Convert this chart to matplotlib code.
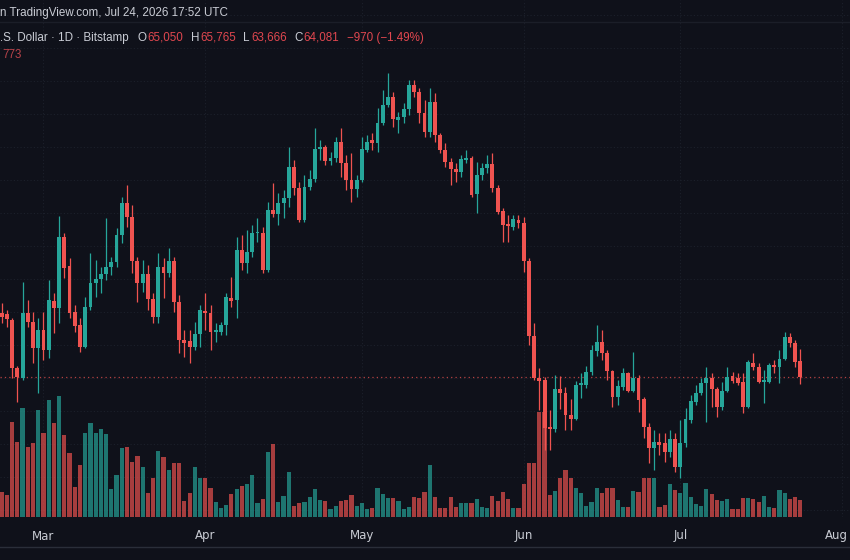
import numpy as np
import pandas as pd
import matplotlib
matplotlib.use("Agg")
import matplotlib.pyplot as plt
import matplotlib.dates as mdates

# ---------------- data ----------------
start_date = "2026-02-21"
opens = [67940, 67880, 67520, 64610, 64000, 67940, 67390, 65820, 66910, 65700,
         68670, 68240, 72550, 70790, 68000, 67210, 65880, 68300, 69760, 70000,
         70300, 70730, 71030, 72670, 74610, 73760, 71090, 69760, 70300, 68790,
         67700, 70730, 70360, 71090, 68610, 66300, 66240, 65880, 66670, 68060,
         67940, 66790, 66790, 67210, 68850, 68730, 71760, 70970, 71640, 72790,
         72790, 70550, 74180, 73940, 74610, 74910, 76790, 75510, 73580, 75570,
         76060, 77880, 78000, 77150, 77330, 78300, 77030, 76000, 75450, 76000,
         77820, 78420, 78240, 79450, 80540, 81030, 79630, 79820, 80300, 81760,
         81330, 80060, 78910, 80730, 78730, 77820, 77090, 76670, 76480, 77210,
         77330, 75150, 76300, 76730, 76970, 75510, 74120, 73330, 73150, 73580,
         73390, 71090, 66550, 64000, 63880, 61030, 60910, 63330, 63090, 61760,
         61520, 63580, 63580, 64360, 65640, 66180, 65520, 64420, 62850, 63450,
         64300, 63210, 64000, 62730, 61030, 59760, 60120, 60060, 59520, 60300,
         58610, 60060, 61450, 62550, 63090, 63700, 64000, 63330, 62240, 63210,
         64120, 64000, 63760, 62240, 64910, 64670, 63760, 63760, 64790, 64670,
         65150, 66490, 66120, 65050]
highs = [68550, 68120, 67640, 64730, 69820, 68730, 68000, 67640, 68000, 69940,
         69150, 73820, 72790, 71270, 68420, 67640, 68910, 71580, 71150, 70730,
         73700, 71330, 73090, 74970, 75700, 74480, 71330, 71150, 70850, 69150,
         71580, 71270, 71880, 71330, 69030, 66910, 66910, 67390, 68420, 69150,
         68420, 67330, 67390, 69150, 70120, 72550, 72670, 72970, 73270, 73700,
         73150, 74670, 75820, 75210, 75390, 78000, 77210, 75880, 76300, 76600,
         79150, 78420, 78120, 77700, 78600, 79150, 77510, 77640, 76300, 78600,
         78730, 78850, 80360, 81450, 82480, 81330, 80120, 80670, 82060, 82060,
         81570, 80850, 81570, 81270, 78850, 78240, 77330, 77030, 77510, 77820,
         77450, 77090, 77030, 77510, 77640, 75700, 74300, 73880, 73880, 73880,
         73760, 71270, 67330, 64610, 64060, 62060, 64180, 64120, 63450, 62730,
         63820, 64300, 64730, 66000, 67210, 66910, 65700, 64480, 63880, 64610,
         64360, 65580, 64180, 62850, 61270, 60850, 60670, 60670, 60850, 60670,
         61450, 62180, 62970, 63580, 64000, 64670, 64300, 63450, 63760, 64670,
         64360, 64300, 64300, 65090, 65520, 64910, 64480, 64910, 65090, 65700,
         66790, 66730, 66300, 65765]
lows = [67330, 67090, 64000, 62550, 63880, 67090, 64910, 63090, 65090, 65210,
        66730, 67330, 70060, 67640, 66790, 65580, 65820, 68120, 68910, 69150,
        69940, 70240, 70730, 72180, 73150, 70360, 68610, 69210, 68120, 67330,
        67330, 68850, 70120, 68000, 65520, 65270, 64910, 65700, 65880, 66910,
        65700, 66180, 66610, 66610, 68300, 67640, 70550, 70360, 71330, 72240,
        70360, 70420, 73760, 73270, 73700, 74360, 75090, 73450, 73450, 75390,
        75880, 77210, 76910, 76910, 77090, 76180, 75390, 74670, 74970, 75880,
        77700, 77820, 77700, 79330, 80420, 79210, 78850, 79450, 79940, 81030,
        79450, 78600, 78600, 78300, 77640, 76790, 75700, 75880, 76180, 77030,
        74970, 74000, 76000, 76420, 75270, 73940, 72240, 72240, 72970, 73090,
        70420, 66000, 63880, 62060, 59640, 59640, 60730, 62120, 60850, 60850,
        61450, 62790, 63390, 64180, 65330, 65090, 63880, 62240, 62360, 63270,
        63150, 63150, 61940, 60360, 58850, 58430, 59330, 58910, 59210, 58300,
        57940, 59820, 61270, 62360, 62970, 61330, 62240, 61640, 62060, 63150,
        63700, 63580, 61880, 62180, 64480, 63700, 62490, 63700, 64300, 63700,
        65090, 65880, 64670, 63666]
closes = [67700, 67580, 64610, 64060, 67940, 67390, 65820, 66910, 65700, 68730,
          68240, 72550, 70670, 67940, 67150, 65880, 68300, 69760, 70000, 70300,
          70730, 71030, 72670, 74610, 73760, 71090, 69760, 70300, 68790, 67700,
          70730, 70360, 71090, 68610, 66300, 66120, 65880, 66670, 68120, 67940,
          66790, 66910, 67210, 68910, 68670, 71760, 70970, 71640, 72790, 72850,
          70550, 74180, 73940, 74610, 74910, 76790, 75510, 73580, 75570, 76060,
          77880, 78000, 77150, 77330, 78300, 77030, 76000, 75450, 76000, 77880,
          78300, 78240, 79450, 80540, 81030, 79700, 79820, 80300, 81760, 81330,
          80060, 78910, 80730, 78730, 77820, 77090, 76670, 76480, 77270, 77330,
          75090, 76300, 76730, 76970, 75510, 74060, 73270, 73210, 73640, 73390,
          71090, 66550, 64000, 63820, 60970, 60910, 63330, 63090, 61760, 61520,
          63580, 63700, 64360, 65700, 66180, 65520, 64420, 62850, 63520, 64300,
          63210, 64000, 62670, 61030, 59760, 60120, 59940, 59520, 60300, 58610,
          60060, 61520, 62610, 63090, 63700, 64000, 63330, 62240, 63210, 64060,
          63820, 63700, 62240, 64970, 64670, 63760, 63880, 64790, 64670, 65150,
          66490, 66120, 64970, 64081]
volumes = [1138, 1001, 4323, 3413, 4960, 3185, 3367, 4869, 3822, 5324,
           4277, 5506, 3731, 2912, 1365, 2366, 3822, 4277, 3822, 4004,
           3777, 1274, 1911, 3140, 3185, 2503, 2776, 2275, 1092, 1775,
           3003, 2730, 2139, 2457, 2457, 728, 1092, 2275, 1775, 1775,
           1320, 683, 410, 546, 1047, 1274, 1411, 1502, 1911, 637,
           819, 2958, 3322, 683, 956, 2048, 500, 637, 683, 910,
           1274, 773, 728, 364, 500, 728, 773, 1001, 500, 637,
           364, 410, 1320, 1047, 865, 865, 728, 364, 455, 910,
           865, 1138, 2366, 910, 410, 410, 910, 455, 637, 637,
           637, 819, 455, 410, 956, 728, 1138, 819, 410, 410,
           1502, 2457, 2457, 4778, 4778, 1001, 1183, 1775, 2139, 1775,
           1320, 1092, 500, 683, 1320, 1092, 1320, 1320, 773, 455,
           455, 1183, 1138, 1775, 1775, 1775, 455, 546, 1502, 1229,
           1092, 1547, 910, 592, 500, 1274, 1047, 773, 728, 819,
           364, 364, 865, 865, 819, 683, 956, 455, 410, 1229,
           1092, 819, 910, 773]

month_ticks = ["2026-03-01", "2026-04-01", "2026-05-01", "2026-06-01",
               "2026-07-01", "2026-08-01"]
month_labels = ["Mar", "Apr", "May", "Jun", "Jul", "Aug"]
last_close = 64081

header_line1 = "n TradingView.com, Jul 24, 2026 17:52 UTC"
header_symbol = ".S. Dollar · 1D · Bitstamp"
ohlc_keys = ["O", "H", "L", "C"]
ohlc_vals = ["65,050", "65,765", "63,666", "64,081"]
change_text = "−970 (−1.49%)"
volume_text = "773"

# ---------------- style ----------------
W, H = 850, 560
BG = "#0f111a"
UP = "#26a69a"
DOWN = "#ef5350"
GRID = "#1c202b"
TXT = "#c9ccd4"
RED_TXT = "#e0474f"

dates = pd.date_range(start_date, periods=len(opens), freq="D")
x = mdates.date2num(dates.to_pydatetime())
o = np.array(opens, float); h = np.array(highs, float)
l = np.array(lows, float); c = np.array(closes, float)
v = np.array(volumes, float)
up = c >= o
cols = np.where(up, UP, DOWN)

fig = plt.figure(figsize=(W / 100, H / 100), dpi=100)
fig.patch.set_facecolor(BG)

pane_bottom_px = 517
axv = fig.add_axes([0, 1 - pane_bottom_px / H, 1, pane_bottom_px / H])
axv.set_facecolor(BG)
axp = axv.twinx()
axp.patch.set_alpha(0)

# x range: candle i sits at pixel 1.7 + 5.22*i
x0 = x[0]
axv.set_xlim(x0 - 1.7 / 5.22, x0 + (W - 1.7) / 5.22)

# price / volume ranges
ppx = 60.6
p_low = 64000 - (pane_bottom_px - 378) * ppx
p_high = 64000 + 378 * ppx
v_top = pane_bottom_px * 45.5
axp.set_ylim(p_low, p_high)
axv.set_ylim(0, v_top)

# grid (drawn on the back axes, behind volume bars)
for gp in np.arange(56000, 88001, 2000):
    gv = (gp - p_low) / (p_high - p_low) * v_top
    axv.axhline(gv, color=GRID, lw=0.8, ls=(0, (1, 2)), zorder=0)
for mt in month_ticks:
    axv.axvline(mdates.date2num(pd.Timestamp(mt)), color=GRID, lw=0.8,
                ls=(0, (1, 2)), zorder=0)

# volume
axv.bar(x, v, width=0.8, color=cols, alpha=0.68, linewidth=0, zorder=1)

# candles
axp.vlines(x, l, h, color=cols, lw=0.9, zorder=3)
body_lo = np.minimum(o, c)
body_h = np.maximum(np.abs(c - o), 70)
axp.bar(x, body_h, bottom=body_lo, width=0.74, color=cols, linewidth=0, zorder=4)

# last price line
axp.axhline(last_close, color=DOWN, lw=0.9, ls=(0, (1, 2.5)), alpha=0.75, zorder=2)

# axes cosmetics
for a in (axv, axp):
    for s in a.spines.values():
        s.set_visible(False)
axp.set_yticks([])
axv.set_yticks([])
tick_pos = [mdates.date2num(pd.Timestamp(t)) for t in month_ticks[:-1]]
axv.set_xticks(tick_pos)
axv.set_xticklabels(month_labels[:-1])
axv.tick_params(axis="x", length=0, pad=9, colors=TXT, labelsize=8.5)
axp.tick_params(length=0)


def fx(px):
    return px / W


def fy(py):
    return 1 - py / H


# last month label sits at the right edge
fig.text(fx(836), fy(535), month_labels[-1], color=TXT, fontsize=8.5,
         ha="center", va="center")

# separator lines
fig.add_artist(plt.Line2D([0, 1], [fy(547)] * 2, color="#2a2e39", lw=1))
fig.add_artist(plt.Line2D([0, 1], [fy(22)] * 2, color="#1b1e28", lw=1))

fam = ["Liberation Sans", "DejaVu Sans"]
fs = 8.4
fig.text(fx(0), fy(13), header_line1, color=TXT, fontsize=fs, va="center",
         ha="left", family=fam)
fig.text(fx(0), fy(38), header_symbol, color=TXT, fontsize=fs, va="center",
         ha="left", family=fam)
key_x = [138, 191, 243, 294]
val_x = [147, 200, 251, 303]
for k, kv, kx, vx in zip(ohlc_keys, ohlc_vals, key_x, val_x):
    fig.text(fx(kx), fy(38), k, color=TXT, fontsize=fs, va="center", family=fam)
    fig.text(fx(vx), fy(38), kv, color=RED_TXT, fontsize=fs, va="center",
             family=fam)
fig.text(fx(347), fy(38), change_text, color=RED_TXT, fontsize=fs,
         va="center", family=fam)
fig.text(fx(2), fy(55), volume_text, color="#b8434a", fontsize=fs,
         va="center", family=fam)

fig.savefig("out.png", dpi=100, facecolor=BG)
